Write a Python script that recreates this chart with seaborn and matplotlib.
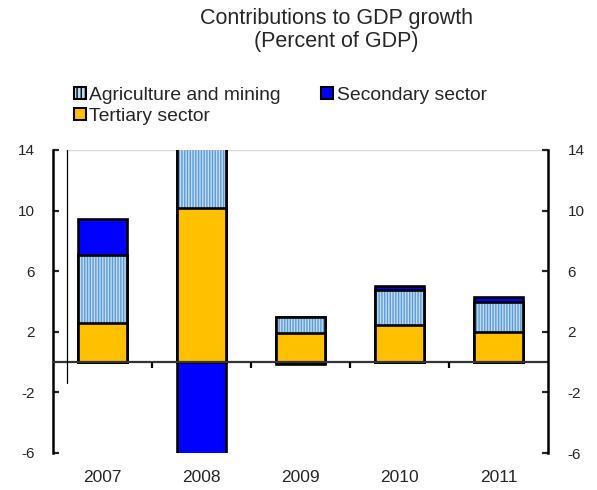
import numpy as np
import pandas as pd
import matplotlib
matplotlib.use('Agg')
import matplotlib.pyplot as plt
import seaborn as sns
from matplotlib.patches import Patch

sns.set_style('white')
plt.rcParams['font.family'] = ['Liberation Sans', 'DejaVu Sans']
plt.rcParams['hatch.linewidth'] = 1.0
plt.rcParams['axes.unicode_minus'] = False

# Contributions to GDP growth by sector (percent of GDP)
years = ['2007', '2008', '2009', '2010', '2011']
tertiary = [2.6, 10.2, 1.9, 2.45, 2.0]
agriculture = [4.45, 5.3, 1.05, 2.3, 1.95]
secondary = [2.4, -7.5, -0.15, 0.27, 0.33]
yticks = [-6, -2, 2, 6, 10, 14]

blue = '#0000FF'
gold = '#FFC000'
agri_face = '#bfdcf3'
agri_hatch = '#5f9bd3'

tert = np.array(tertiary)
agri_top = tert + np.array(agriculture)
sec = np.array(secondary)
sec_top = agri_top + np.clip(sec, 0, None)
sec_neg = np.clip(sec, None, 0)

fig = plt.figure(figsize=(5.97, 4.90), dpi=100)
ax = fig.add_axes([53/597, 1 - 453/490, 495/597, 303/490])

bar_kw = dict(width=0.5, saturation=1, edgecolor='black', linewidth=1.9, ax=ax, errorbar=None)

# stacked bars drawn from the tallest layer down
sns.barplot(x=years, y=sec_top, color=blue, **bar_kw)
sns.barplot(x=years, y=agri_top, color=agri_face, width=0.5, saturation=1,
            edgecolor=agri_hatch, linewidth=0, hatch='||||||', ax=ax, errorbar=None)
sns.barplot(x=years, y=agri_top, fill=False, width=0.5, edgecolor='black',
            linewidth=1.9, ax=ax, errorbar=None)
sns.barplot(x=years, y=tert, color=gold, **bar_kw)
sns.barplot(x=years, y=sec_neg, color=blue, **bar_kw)

ax.set_xlim(-0.5, 4.5)
ax.set_ylim(-6, 14)
ax.set_yticks(yticks)
ax.set_xlabel('')
ax.set_ylabel('')

# zero line with category separators
ax.axhline(0, color='#333333', lw=1.6, zorder=5)
ax.vlines([0.5, 1.5, 2.5, 3.5], -0.4, 0, color='black', lw=1.6, zorder=5)
ax.plot([-0.36, -0.36], [-1.4, 14], color='black', lw=0.9, zorder=5)
ax.plot([-0.36, 4.5], [14, 14], color='#d9d9d9', lw=1, zorder=0)

for s in ['top', 'bottom', 'right']:
    ax.spines[s].set_visible(False)
ax.spines['left'].set_linewidth(1.8)
ax.spines['left'].set_color('black')
ax.tick_params(axis='y', direction='in', length=4, width=1.6, pad=13,
               labelsize=11, left=True, right=False)
ax.tick_params(axis='x', length=0, pad=12, labelsize=12.5)

ax2 = ax.twinx()
ax2.set_ylim(-6, 14)
ax2.set_yticks(yticks)
for s in ['top', 'bottom', 'left']:
    ax2.spines[s].set_visible(False)
ax2.spines['right'].set_linewidth(1.8)
ax2.spines['right'].set_color('black')
ax2.tick_params(axis='y', direction='in', length=4, width=1.6, pad=14, labelsize=11)

fig.text(336/597, 1 - 24/490, 'Contributions to GDP growth', ha='center', va='baseline', fontsize=15.5)
fig.text(336/597, 1 - 47/490, '(Percent of GDP)', ha='center', va='baseline', fontsize=15.5)

handles = [
    Patch(facecolor=agri_face, edgecolor='black', hatch='||||', linewidth=1.5, label='Agriculture and mining'),
    Patch(facecolor=gold, edgecolor='black', linewidth=1.5, label='Tertiary sector'),
    Patch(facecolor=blue, edgecolor='black', linewidth=1.5, label='Secondary sector'),
]
fig.legend(handles=handles, loc='upper left', bbox_to_anchor=(74/597, 1 - 87/490), ncol=2,
           frameon=False, fontsize=13.9, handlelength=0.6, handleheight=0.6,
           handletextpad=0.2, columnspacing=2.1, labelspacing=0.2, borderpad=0, borderaxespad=0)

fig.savefig('out.png', dpi=100)
